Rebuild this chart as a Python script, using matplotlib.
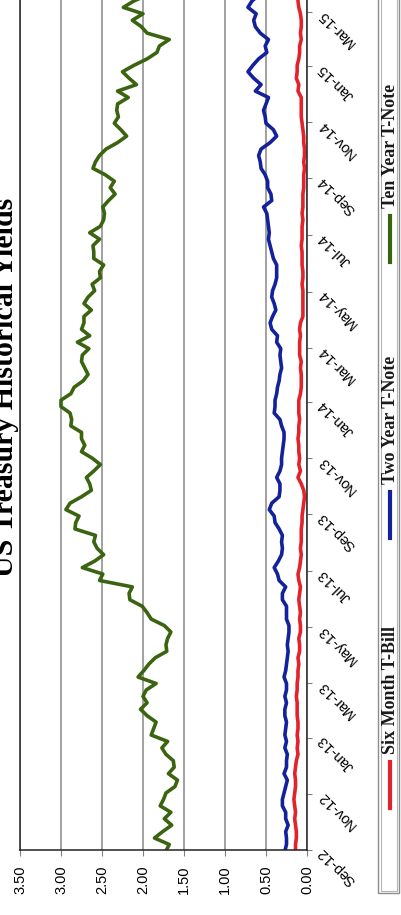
import pandas as pd
import matplotlib
matplotlib.use("Agg")
import matplotlib.pyplot as plt
from matplotlib.lines import Line2D
from matplotlib.patches import Rectangle

W, H = 401, 915

# weekly (Friday) closing yields, percent
dates = pd.date_range("2012-08-31", "2015-03-20", freq="W-FRI")

six_month = [
    0.14,
    0.14, 0.13, 0.13, 0.14,
    0.15, 0.14, 0.15, 0.16,
    0.15, 0.14, 0.14, 0.15, 0.14,
    0.13, 0.11, 0.12, 0.11,
    # 2013
    0.12, 0.11, 0.11, 0.12,
    0.12, 0.12, 0.13, 0.12,
    0.12, 0.11, 0.11, 0.10, 0.11,
    0.09, 0.09, 0.10, 0.08,
    0.08, 0.09, 0.08, 0.09, 0.10,
    0.09, 0.08, 0.10, 0.11,
    0.09, 0.08, 0.07, 0.08,
    0.07, 0.07, 0.07, 0.06, 0.06,
    0.05, 0.04, 0.03, 0.04,
    0.07, 0.11, 0.08, 0.10,
    0.09, 0.10, 0.10, 0.11, 0.10,
    0.10, 0.09, 0.10, 0.10,
    # 2014
    0.10, 0.08, 0.07, 0.07, 0.07,
    0.08, 0.07, 0.09, 0.09,
    0.09, 0.08, 0.09, 0.08,
    0.05, 0.05, 0.05, 0.05,
    0.05, 0.06, 0.05, 0.05, 0.06,
    0.06, 0.06, 0.07, 0.06,
    0.06, 0.06, 0.05, 0.06,
    0.05, 0.05, 0.05, 0.04, 0.04,
    0.04, 0.03, 0.04, 0.03,
    0.03, 0.04, 0.04, 0.05, 0.06,
    0.07, 0.07, 0.07, 0.07,
    0.11, 0.10, 0.13, 0.12,
    # 2015
    0.12, 0.10, 0.09, 0.09, 0.07,
    0.08, 0.07, 0.07, 0.08,
    0.10, 0.11, 0.11,
]

two_year = [
    0.27,
    0.25, 0.25, 0.26, 0.23,
    0.26, 0.26, 0.30, 0.30,
    0.28, 0.26, 0.24, 0.28, 0.25,
    0.25, 0.24, 0.27, 0.25,
    # 2013
    0.27, 0.26, 0.25, 0.27,
    0.27, 0.25, 0.27, 0.25,
    0.25, 0.28, 0.26, 0.25, 0.24,
    0.23, 0.24, 0.23, 0.22,
    0.22, 0.25, 0.25, 0.25, 0.30,
    0.30, 0.26, 0.34, 0.36,
    0.40, 0.35, 0.31, 0.30,
    0.31, 0.30, 0.34, 0.39, 0.40,
    0.46, 0.43, 0.34, 0.33,
    0.33, 0.37, 0.33, 0.31,
    0.31, 0.30, 0.29, 0.28, 0.28,
    0.31, 0.33, 0.40, 0.39,
    # 2014
    0.39, 0.37, 0.36, 0.34, 0.33,
    0.31, 0.32, 0.33, 0.32,
    0.37, 0.36, 0.43, 0.45,
    0.42, 0.38, 0.40, 0.43,
    0.42, 0.39, 0.37, 0.37, 0.37,
    0.41, 0.43, 0.45, 0.47,
    0.46, 0.47, 0.48, 0.49,
    0.53, 0.43, 0.44, 0.48, 0.48,
    0.51, 0.56, 0.57, 0.59,
    0.56, 0.45, 0.37, 0.41, 0.50,
    0.51, 0.53, 0.50, 0.47,
    0.63, 0.56, 0.65, 0.72,
    # 2015
    0.66, 0.59, 0.49, 0.51, 0.47,
    0.57, 0.63, 0.65, 0.62,
    0.72, 0.67, 0.58,
]

ten_year = [
    1.72,
    1.68, 1.86, 1.76, 1.65,
    1.74, 1.66, 1.79, 1.75,
    1.72, 1.61, 1.58, 1.69, 1.62,
    1.63, 1.72, 1.77, 1.70,
    # 2013
    1.90, 1.87, 1.84, 1.95,
    2.03, 1.95, 2.00, 1.96,
    1.84, 2.06, 1.99, 1.93, 1.85,
    1.71, 1.72, 1.70, 1.66,
    1.74, 1.90, 1.95, 2.01, 2.16,
    2.17, 2.13, 2.53, 2.49,
    2.74, 2.59, 2.48, 2.56,
    2.60, 2.58, 2.83, 2.82, 2.78,
    2.94, 2.89, 2.75, 2.63,
    2.65, 2.69, 2.60, 2.52,
    2.62, 2.75, 2.71, 2.75, 2.75,
    2.88, 2.87, 2.89, 3.00,
    # 2014
    3.00, 2.88, 2.84, 2.73, 2.67,
    2.71, 2.75, 2.74, 2.66,
    2.80, 2.65, 2.75, 2.72,
    2.72, 2.63, 2.72, 2.67,
    2.59, 2.62, 2.52, 2.53, 2.48,
    2.60, 2.60, 2.61, 2.53,
    2.65, 2.52, 2.48, 2.47,
    2.49, 2.42, 2.34, 2.40, 2.35,
    2.46, 2.61, 2.58, 2.53,
    2.45, 2.31, 2.20, 2.27, 2.35,
    2.30, 2.32, 2.31, 2.18,
    2.31, 2.08, 2.17, 2.25,
    # 2015
    2.11, 1.95, 1.83, 1.80, 1.68,
    1.95, 2.02, 2.13, 2.00,
    2.24, 2.11, 1.93,
]

series = [six_month, two_year, ten_year]
names = ["Six Month T-Bill", "Two Year T-Note", "Ten Year T-Note"]
colors = ["#e3232b", "#13219a", "#3b6410"]

yield_ticks = [3.5, 3.0, 2.5, 2.0, 1.5, 1.0, 0.5, 0.0]
month_ticks = pd.date_range("2012-09-01", "2015-03-01", freq="2MS")
month_labels = [d.strftime("%b-%y") for d in month_ticks]


def fx(x):
    return x / W


def fy(y):
    return 1 - y / H


fig = plt.figure(figsize=(W / 100, H / 100), dpi=100)

# the chart is laid on its side: yield runs right-to-left, time runs upward
ax = fig.add_axes([fx(20), fy(850), (307 - 20) / W, 850 / H])
for vals, name, c in zip(series, names, colors):
    ax.plot(vals, dates, color=c, lw=2.6, label=name, solid_joinstyle="round")

ax.set_xlim(3.5, 0.0)
ax.set_ylim(pd.Timestamp("2012-09-01"), pd.Timestamp("2015-03-14"))
ax.set_axisbelow(True)
ax.grid(axis="x", color="#9a9a9a", lw=1.3)
ax.grid(axis="y", visible=False)

ax.set_xticks(yield_ticks)
ax.set_xticklabels(["%.2f" % v for v in yield_ticks], rotation=90,
                   family="Liberation Sans", fontsize=10.5)
ax.tick_params(axis="x", length=4, color="#808080", pad=7)

ax.yaxis.tick_right()
ax.set_yticks(month_ticks)
ax.set_yticklabels(month_labels, rotation=135, ha="right", va="center",
                   rotation_mode="anchor", family="Liberation Sans", fontsize=10.5)
ax.tick_params(axis="y", length=3.5, color="#808080", pad=6)

ax.spines["top"].set_visible(False)
for s in ("left", "right", "bottom"):
    ax.spines[s].set_color("#222222")
    ax.spines[s].set_linewidth(1.1)

# title, running up the left edge
fig.text(fx(13), fy(387), "US Treasury Historical Yields", rotation=90,
         rotation_mode="anchor", ha="center", va="baseline",
         fontsize=21.5, fontweight="bold", family="Liberation Serif")

# legend box down the right edge
fig.add_artist(Rectangle((fx(378), fy(893)), fx(399) - fx(378), fy(-5) - fy(893),
                         transform=fig.transFigure, fill=False,
                         edgecolor="#8c8c8c", lw=1.0))
fig.add_artist(Rectangle((fx(380.5), fy(890.5)), fx(397) - fx(380.5), fy(-5) - fy(890.5),
                         transform=fig.transFigure, fill=False,
                         edgecolor="#b5b5b5", lw=0.8))

legend_y = [808, 538, 262]
for y0, name, c in zip(legend_y, names, colors):
    fig.add_artist(Line2D([fx(390), fx(390)], [fy(y0), fy(y0 - 46)],
                          transform=fig.transFigure, color=c, lw=3.0))
    fig.text(fx(395), fy(y0 - 54), name, rotation=90, rotation_mode="anchor",
             ha="left", va="baseline", fontsize=13, fontweight="bold",
             family="Liberation Serif", color="#1a1a1a")

fig.savefig("out.png", dpi=100)
